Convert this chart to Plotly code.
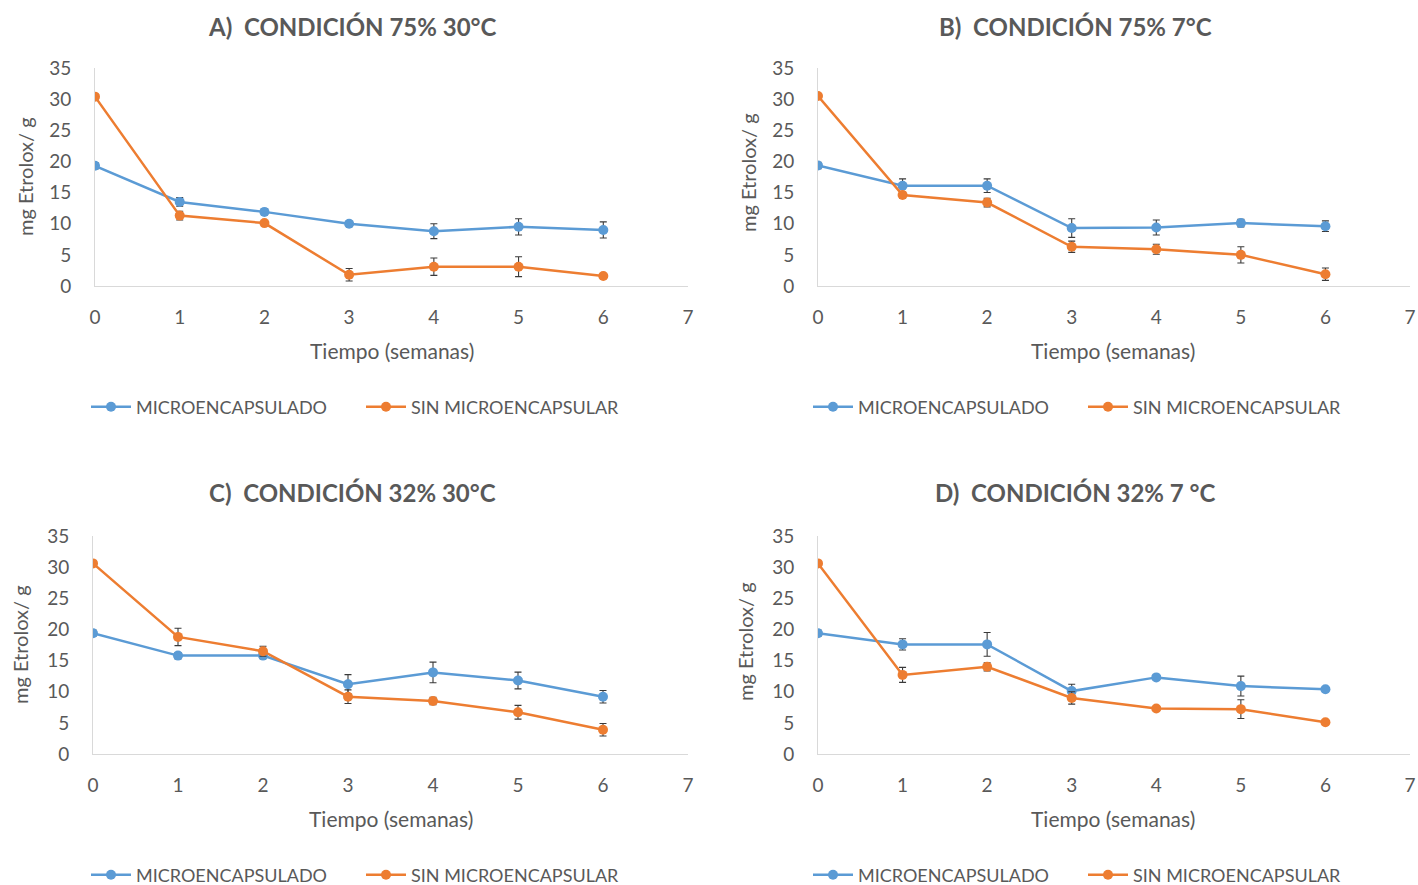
import plotly.graph_objects as go

weeks = [0, 1, 2, 3, 4, 5, 6]
series_names = ["MICROENCAPSULADO", "SIN MICROENCAPSULAR"]
titles = ["A)  CONDICIÓN 75% 30°C", "B)  CONDICIÓN 75% 7°C",
          "C)  CONDICIÓN 32% 30°C", "D)  CONDICIÓN 32% 7 °C"]

# Panel A
a_micro = [19.3, 13.5, 11.9, 10.0, 8.8, 9.5, 9.0]
a_micro_err = [0.5, 0.7, 0.5, 0.4, 1.2, 1.3, 1.3]
a_sin = [30.4, 11.3, 10.1, 1.8, 3.1, 3.1, 1.6]
a_sin_err = [0.3, 0.7, 0.3, 1.0, 1.4, 1.6, 0.3]
# Panel B
b_micro = [19.35, 16.1, 16.1, 9.3, 9.4, 10.1, 9.6]
b_micro_err = [0.5, 1.1, 1.1, 1.5, 1.2, 0.6, 0.85]
b_sin = [30.5, 14.6, 13.4, 6.3, 5.9, 5.0, 1.9]
b_sin_err = [0.4, 0.5, 0.7, 0.9, 0.8, 1.3, 1.0]
# Panel C
c_micro = [19.4, 15.8, 15.8, 11.2, 13.1, 11.8, 9.2]
c_micro_err = [0.5, 0.5, 0.4, 1.55, 1.65, 1.35, 1.0]
c_sin = [30.6, 18.8, 16.5, 9.2, 8.5, 6.7, 3.9]
c_sin_err = [0.4, 1.4, 0.8, 1.1, 0.6, 1.1, 1.0]
# Panel D
d_micro = [19.4, 17.6, 17.6, 10.1, 12.3, 10.9, 10.4]
d_micro_err = [0.5, 0.9, 1.9, 1.1, 0.4, 1.6, 0.3]
d_sin = [30.6, 12.7, 14.0, 9.0, 7.3, 7.2, 5.1]
d_sin_err = [0.4, 1.2, 0.65, 1.0, 0.3, 1.5, 0.3]

x_ticks = [0, 1, 2, 3, 4, 5, 6, 7]
y_ticks = [0, 5, 10, 15, 20, 25, 30, 35]

panels = [
    (a_micro, a_micro_err, a_sin, a_sin_err),
    (b_micro, b_micro_err, b_sin, b_sin_err),
    (c_micro, c_micro_err, c_sin, c_sin_err),
    (d_micro, d_micro_err, d_sin, d_sin_err),
]

W, H = 1418, 885
# plot-area boxes in pixels: x0, x1, ytop, ybottom
boxes = [(95, 688, 68, 286), (818, 1410, 68, 286),
         (93, 688, 536, 754), (818, 1410, 536, 754)]
title_pos = [(352, 26), (1075, 26), (352, 493), (1075, 493)]
xtitle_pos = [(392, 351), (1113, 351), (391, 818), (1113, 818)]
ytitle_pos = [(25, 177), (748, 172), (20, 645), (745, 642)]
legend_pos = [(86, 407), (808, 407), (86, 875), (808, 875)]

colors = ["#5B9BD5", "#ED7D31"]
gray = "#595959"
FONT = "Lato"

fig = go.Figure()
layout = dict(width=W, height=H,
              margin=dict(l=0, r=0, t=0, b=0, pad=0, autoexpand=False),
              plot_bgcolor="white", paper_bgcolor="white",
              showlegend=True, annotations=[])

for i, (vals, box) in enumerate(zip(panels, boxes)):
    n = "" if i == 0 else str(i + 1)
    xa, ya = "x" + n, "y" + n
    leg = "legend" + n
    series = [(vals[0], vals[1]), (vals[2], vals[3])]
    for k, (y, e) in enumerate(series):
        fig.add_trace(go.Scatter(
            x=weeks, y=y, mode="lines+markers", name=series_names[k],
            xaxis=xa, yaxis=ya, legend=leg,
            line=dict(color=colors[k], width=2.5),
            marker=dict(color=colors[k], size=10),
            error_y=dict(type="data", array=e, visible=True,
                         color="#3a3a3a", thickness=1.1, width=3.5),
        ))
    x0, x1, yt, yb = box
    axis_common = dict(showgrid=False, zeroline=False, showline=True,
                       linecolor="#d9d9d9", linewidth=1, ticks="",
                       automargin=False,
                       tickfont=dict(family=FONT, size=19, color=gray))
    layout["xaxis" + n] = dict(axis_common, domain=[x0 / W, x1 / W],
                               range=[0, 7], tickvals=x_ticks,
                               ticklabelstandoff=14,
                               anchor=ya, fixedrange=True)
    layout["yaxis" + n] = dict(axis_common, domain=[1 - yb / H, 1 - yt / H],
                               range=[0, 35], tickvals=y_ticks,
                               ticklabelstandoff=19,
                               anchor=xa, fixedrange=True)
    lx, ly = legend_pos[i]
    layout[leg] = dict(orientation="h", x=lx / W, y=1 - ly / H,
                       xanchor="left", yanchor="middle",
                       font=dict(family=FONT, size=18, color=gray),
                       bgcolor="rgba(0,0,0,0)", itemwidth=40,
                       entrywidth=220, entrywidthmode="pixels",
                       tracegroupgap=0)
    tx, ty = title_pos[i]
    layout["annotations"].append(dict(
        text="<b>" + titles[i] + "</b>", x=tx / W, y=1 - ty / H,
        xref="paper", yref="paper", showarrow=False,
        xanchor="center", yanchor="middle",
        font=dict(family=FONT, size=24, color=gray)))
    ax_, ay_ = xtitle_pos[i]
    layout["annotations"].append(dict(
        text="Tiempo (semanas)", x=ax_ / W, y=1 - ay_ / H,
        xref="paper", yref="paper", showarrow=False,
        xanchor="center", yanchor="middle",
        font=dict(family=FONT, size=21, color=gray)))
    yx, yy = ytitle_pos[i]
    layout["annotations"].append(dict(
        text="mg Etrolox/ g", x=yx / W, y=1 - yy / H,
        xref="paper", yref="paper", showarrow=False, textangle=-90,
        xanchor="center", yanchor="middle",
        font=dict(family=FONT, size=20, color=gray)))

fig.update_layout(**layout)
fig.write_html(
    "out.html", config={"displayModeBar": False},
    post_script="document.body.style.margin='0';"
                "document.body.style.overflow='hidden';")
